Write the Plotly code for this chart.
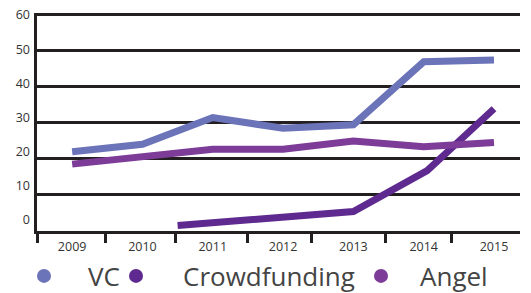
import plotly.graph_objects as go

years = [2009, 2010, 2011, 2012, 2013, 2014, 2015]
vc = [21.9, 24.0, 31.4, 28.4, 29.4, 46.8, 47.3]
angel = [18.5, 20.6, 22.6, 22.6, 24.9, 23.3, 24.5]
crowd_x = [2010.5, 2012.1, 2013.0, 2014.05, 2015.0]
crowd = [1.5, 4.3, 5.4, 16.7, 33.8]
x_ticks = [2008.5, 2009.48, 2010.47, 2011.49, 2012.4, 2013.45, 2014.4]
y_ticks = [0, 10, 20, 30, 40, 50, 60]

C_VC = "#6b73b9"
C_CROWD = "#5f2a8f"
C_ANGEL = "#7e3c99"
FONT = "Open Sans"

fig = go.Figure()
fig.add_trace(go.Scatter(x=years, y=vc, mode="lines", line=dict(color=C_VC, width=7),
                         showlegend=False, legendgroup="vc"))
fig.add_trace(go.Scatter(x=crowd_x, y=crowd, mode="lines", line=dict(color=C_CROWD, width=7),
                         showlegend=False, legendgroup="cf"))
fig.add_trace(go.Scatter(x=years, y=angel, mode="lines", line=dict(color=C_ANGEL, width=7),
                         showlegend=False, legendgroup="an"))
# legend entries (circle markers), one legend each so they can be placed like the reference
for name, col, grp, lg in [("VC", C_VC, "vc", "legend"), ("Crowdfunding", C_CROWD, "cf", "legend2"),
                           ("Angel", C_ANGEL, "an", "legend3")]:
    fig.add_trace(go.Scatter(x=[None], y=[None], mode="markers", name=name, legendgroup=grp,
                             legend=lg, marker=dict(color=col, size=14, symbol="circle")))
# helper axis for the left labels
fig.add_trace(go.Scatter(x=[None], y=[None], yaxis="y2", showlegend=False, hoverinfo="skip"))

leg_common = dict(orientation="h", xref="container", yref="container", y=0.058, yanchor="middle",
                  font=dict(size=26, color="#444", family=FONT), bgcolor="rgba(0,0,0,0)")

fig.update_layout(
    width=531, height=293,
    margin=dict(l=37, r=11, t=13, b=62, autoexpand=False),
    paper_bgcolor="white", plot_bgcolor="white",
    font=dict(family=FONT, color="#333"),
    xaxis=dict(range=[2008.5, 2015.37], tickvals=years, ticktext=[str(y) for y in years],
               ticks="outside", ticklen=2, tickcolor="rgba(0,0,0,0)",
               tickfont=dict(size=12.5, color="#333"),
               showgrid=False, zeroline=False, showline=True, linecolor="#231f20", linewidth=2.5,
               minor=dict(tickvals=x_ticks, ticks="outside", ticklen=9, tickwidth=2.5,
                          tickcolor="#231f20", showgrid=False)),
    yaxis=dict(range=[0, 60.3], tickvals=y_ticks, showticklabels=False, showgrid=True,
               gridcolor="#231f20", gridwidth=2.5, zeroline=False, showline=True,
               linecolor="#231f20", linewidth=2.5),
    yaxis2=dict(overlaying="y", side="left", range=[-3.22, 60.58], tickvals=y_ticks,
                showgrid=False, zeroline=False, showline=False, ticks="",
                ticklabelstandoff=6, tickfont=dict(size=12.5, color="#333")),
    legend=dict(x=0, itemwidth=78, **leg_common),
    legend2=dict(x=89 / 531, itemwidth=84, **leg_common),
    legend3=dict(x=342 / 531, itemwidth=68, **leg_common),
)

fig.write_html("out.html", config={"displayModeBar": False},
               post_script="document.body.style.margin='0';")
